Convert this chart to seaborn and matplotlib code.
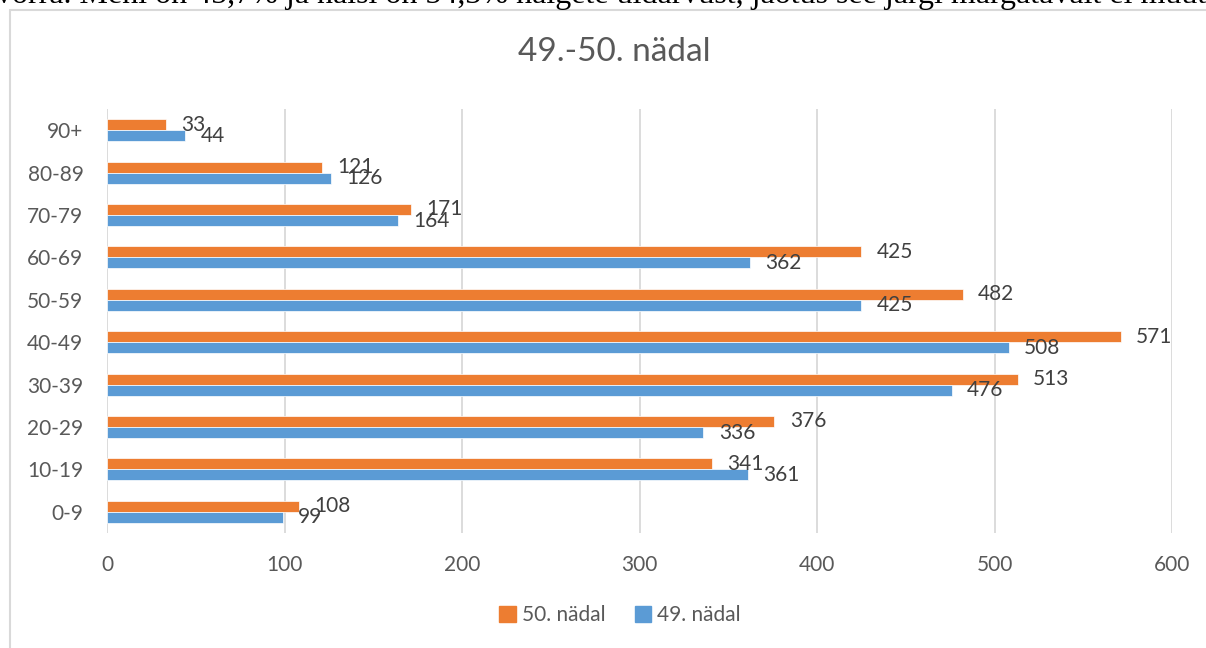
import pandas as pd
import matplotlib.pyplot as plt
import seaborn as sns
from matplotlib.patches import Rectangle

# ── Data ──────────────────────────────────────────────────────────────────────
age_groups = ["90+", "80-89", "70-79", "60-69", "50-59",
              "40-49", "30-39", "20-29", "10-19", "0-9"]
week_50 = [33, 121, 171, 425, 482, 571, 513, 376, 341, 108]
week_49 = [44, 126, 164, 362, 425, 508, 476, 336, 361, 99]
series_names = ["50. nädal", "49. nädal"]
x_ticks = [0, 100, 200, 300, 400, 500, 600]
title = "49.-50. nädal"
header_text = ("võrra. Mehi on 45,7% ja naisi on 54,3% haigete üldarvust, "
               "jaotus see järgi märgatavalt ei muutu")

df = pd.DataFrame({
    "age": age_groups * 2,
    "value": week_50 + week_49,
    "week": [series_names[0]] * len(age_groups) + [series_names[1]] * len(age_groups),
})

# ── Style ─────────────────────────────────────────────────────────────────────
sns.set_style("white")
plt.rcParams["font.family"] = ["Lato", "DejaVu Sans"]
palette = {series_names[0]: "#ED7D31", series_names[1]: "#5B9BD5"}
text_col = "#595959"
fs = 15

fig = plt.figure(figsize=(12.06, 6.48), dpi=100)
ax = fig.add_axes([107 / 1206, 1 - 533 / 648, (1172 - 107) / 1206, (533 - 109) / 648])

sns.barplot(data=df, y="age", x="value", hue="week", order=age_groups,
            hue_order=series_names, palette=palette, orient="h",
            width=0.52, ax=ax, legend=False, saturation=1,
            edgecolor="white", linewidth=0.5)

ax.set_xlim(0, 600)
ax.set_xticks(x_ticks)
ax.set_xlabel("")
ax.set_ylabel("")
ax.xaxis.grid(True, color="#D9D9D9", linewidth=1.3)
ax.set_axisbelow(True)
for s in ax.spines.values():
    s.set_visible(False)
ax.tick_params(axis="x", length=0, pad=16, labelsize=fs, labelcolor=text_col)
ax.tick_params(axis="y", length=0, pad=17, labelsize=fs, labelcolor=text_col)

# data labels
for cont in ax.containers:
    ax.bar_label(cont, labels=[f"{v:.0f}" for v in cont.datavalues],
                 padding=11, fontsize=fs, color="#404040")

# title
fig.text(614 / 1206, 1 - 52 / 648, title, ha="center", va="center",
         fontsize=24, color=text_col)

# legend
handles = [Rectangle((0, 0), 1, 1, color=palette[n]) for n in series_names]
fig.legend(handles, series_names, loc="center", bbox_to_anchor=(620 / 1206, 1 - 615 / 648),
           ncol=2, frameon=False, fontsize=fs, labelcolor=text_col,
           handlelength=0.8, handleheight=0.8, handletextpad=0.3, columnspacing=1.4)

# chart border and clipped document line above
fig.patches.append(Rectangle((10 / 1206, -0.05), 1.1, 1 - 10 / 648 + 0.05,
                             transform=fig.transFigure, fill=False,
                             edgecolor="#D9D9D9", linewidth=1.5))
fig.text(-4 / 1206, 1 - 3 / 648, header_text, ha="left", va="baseline",
         fontsize=23, family="Liberation Serif", color="black")

fig.savefig("out.png", dpi=100)
